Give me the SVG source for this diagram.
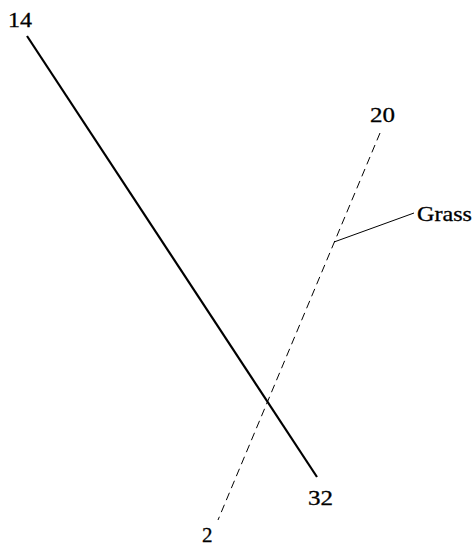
<svg xmlns="http://www.w3.org/2000/svg" width="474" height="550" viewBox="0 0 474 550">
<style>
text{font-family:"Liberation Serif","Times New Roman",serif;font-size:21px;fill:#000;stroke:#000;stroke-width:0.3}
.solid{stroke:#000;stroke-width:2.2;fill:none}
.dash{stroke:#000;stroke-width:1;stroke-dasharray:8,5;fill:none}
.lead{stroke:#000;stroke-width:1;fill:none}
</style>
<rect width="474" height="550" fill="#fff"/>
<g id="connectors">
<line class="solid" x1="27" y1="36" x2="317" y2="477"/>
<line class="dash" x1="380" y1="133" x2="218" y2="520"/>
<line class="lead" x1="334" y1="242" x2="414" y2="213"/>
</g>
<g id="n14"><text x="8" y="27" textLength="24" lengthAdjust="spacingAndGlyphs">14</text></g>
<g id="n20"><text x="370" y="122" textLength="25" lengthAdjust="spacingAndGlyphs">20</text></g>
<g id="n32"><text x="308" y="505" textLength="25" lengthAdjust="spacingAndGlyphs">32</text></g>
<g id="n2"><text x="202" y="542">2</text></g>
<g id="grass"><text x="417" y="221" textLength="55" lengthAdjust="spacingAndGlyphs">Grass</text></g>
</svg>
